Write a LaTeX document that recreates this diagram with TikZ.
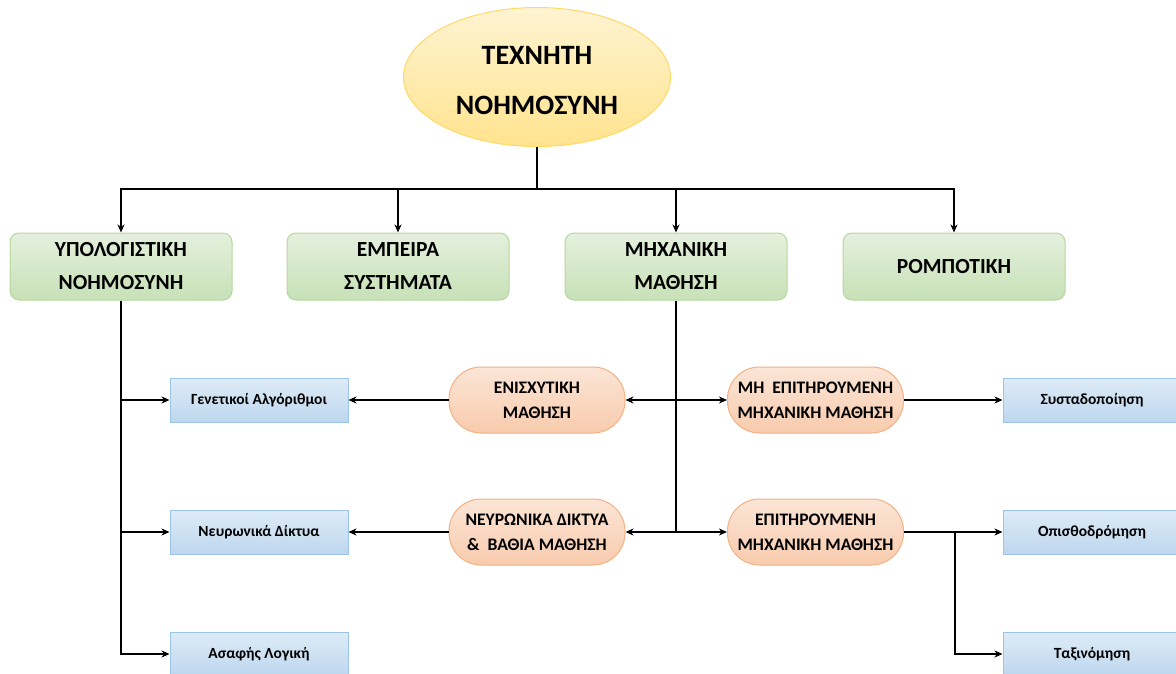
\documentclass[tikz,border=0pt]{standalone}
\usepackage{fontspec}
\setmainfont{Carlito}
\usetikzlibrary{shapes.geometric,arrows.meta}

\definecolor{ylTop}{HTML}{FFF4D2}
\definecolor{ylBot}{HTML}{FFE38E}
\definecolor{ylLine}{HTML}{FFD966}
\definecolor{grTop}{HTML}{E4F0DD}
\definecolor{grBot}{HTML}{C7E1B7}
\definecolor{grLine}{HTML}{B5D89E}
\definecolor{orTop}{HTML}{FBE5D6}
\definecolor{orBot}{HTML}{F8CBAD}
\definecolor{orLine}{HTML}{F4B183}
\definecolor{blTop}{HTML}{DEEBF7}
\definecolor{blBot}{HTML}{BDD7EE}
\definecolor{blLine}{HTML}{9DC3E6}

\tikzset{
  rootnode/.style={ellipse, draw=ylLine, line width=1pt, top color=ylTop, bottom color=ylBot,
    minimum width=267pt, minimum height=139pt, inner sep=0pt},
  roottext/.style={align=center, font=\fontsize{28}{50}\selectfont\bfseries},
  areabox/.style={draw=grLine, line width=1pt, rounded corners=9pt, top color=grTop, bottom color=grBot,
    minimum width=222pt, minimum height=67pt, inner sep=0pt, align=center,
    font=\fontsize{21.5}{33}\selectfont\bfseries},
  learnbox/.style={draw=orLine, line width=1pt, rounded corners=32pt, top color=orTop, bottom color=orBot,
    minimum width=176pt, minimum height=66pt, inner sep=0pt, align=center,
    font=\fontsize{17.6}{25}\selectfont\bfseries},
  leafbox/.style={draw=blLine, line width=1pt, top color=blTop, bottom color=blBot,
    minimum width=178pt, minimum height=44pt, inner sep=0pt, align=center,
    font=\fontsize{15.5}{18}\selectfont\bfseries},
  link/.style={line width=1.3pt, draw=black},
  arr/.style={link, -{Stealth[length=8pt,width=7pt,inset=2.5pt]}},
}

\begin{document}
\begin{tikzpicture}[x=1pt,y=1pt]
\useasboundingbox (0,0) rectangle (1176,-673);
\clip (0,0) rectangle (1176,-673);

% root
\node[rootnode] (ai) at (537,-77) {};
\node[roottext] (aitext) at (537,-81) {ΤΕΧΝΗΤΗ\\ΝΟΗΜΟΣΥΝΗ};

% main areas
\node[areabox] (ci) at (121,-266.5) {ΥΠΟΛΟΓΙΣΤΙΚΗ\\ΝΟΗΜΟΣΥΝΗ};
\node[areabox] (es) at (398,-266.5) {ΕΜΠΕΙΡΑ\\ΣΥΣΤΗΜΑΤΑ};
\node[areabox] (ml) at (676,-266.5) {ΜΗΧΑΝΙΚΗ\\ΜΑΘΗΣΗ};
\node[areabox] (rb) at (954,-266.5) {ΡΟΜΠΟΤΙΚΗ};

% kinds of learning
\node[learnbox] (rl) at (537,-400) {ΕΝΙΣΧΥΤΙΚΗ\\ΜΑΘΗΣΗ};
\node[learnbox] (ul) at (815.5,-400) {ΜΗ~~ΕΠΙΤΗΡΟΥΜΕΝΗ\\ΜΗΧΑΝΙΚΗ ΜΑΘΗΣΗ};
\node[learnbox] (dl) at (537,-532) {ΝΕΥΡΩΝΙΚΑ ΔΙΚΤΥΑ\\\&~~ΒΑΘΙΑ ΜΑΘΗΣΗ};
\node[learnbox] (sl) at (815.5,-532) {ΕΠΙΤΗΡΟΥΜΕΝΗ\\ΜΗΧΑΝΙΚΗ ΜΑΘΗΣΗ};

% leaves
\node[leafbox] (ga) at (259,-400) {Γενετικοί Αλγόριθμοι};
\node[leafbox] (nn) at (259,-532) {Νευρωνικά Δίκτυα};
\node[leafbox] (fz) at (259,-654) {Ασαφής Λογική};
\node[leafbox] (cl) at (1092,-400) {Συσταδοποίηση};
\node[leafbox] (rg) at (1092,-532) {Οπισθοδρόμηση};
\node[leafbox] (tx) at (1092,-654) {Ταξινόμηση};

% root to areas
\coordinate (top) at (537,-189);
\draw[link] (ai.south) -- (top);
\draw[arr] (top) -| (ci.north);
\draw[arr] (top) -| (es.north);
\draw[arr] (top) -| (ml.north);
\draw[arr] (top) -| (rb.north);

% computational intelligence branches
\draw[arr] (ci.south) |- (ga.west);
\draw[arr] (ci.south) |- (nn.west);
\draw[arr] (ci.south) |- (fz.west);

% machine learning branches
\coordinate (j1) at (ml.south |- rl.east);
\coordinate (j2) at (ml.south |- dl.east);
\draw[link] (ml.south) -- (j2);
\draw[arr] (j1) -- (rl.east);
\draw[arr] (j1) -- (ul.west);
\draw[arr] (j2) -- (dl.east);
\draw[arr] (j2) -- (sl.west);

% to the leaves
\draw[arr] (rl.west) -- (ga.east);
\draw[arr] (dl.west) -- (nn.east);
\draw[arr] (ul.east) -- (cl.west);
\draw[arr] (sl.east) -- (rg.west);
\coordinate (j3) at (955,-532);
\draw[arr] (j3) |- (tx.west);
\end{tikzpicture}
\end{document}
